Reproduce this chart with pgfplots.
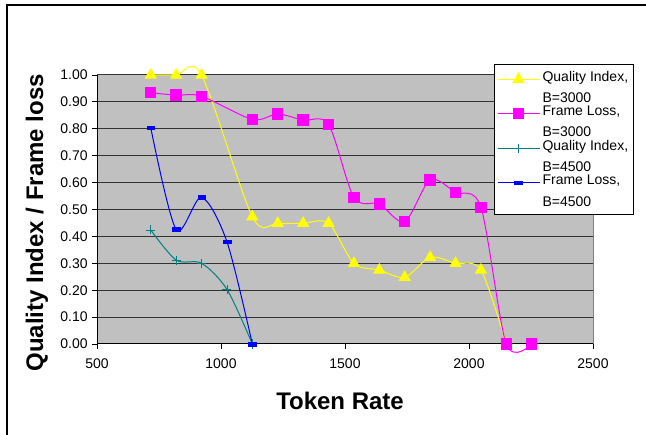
\documentclass[border=0pt]{standalone}
\usepackage{fontspec}
\setmainfont{Liberation Sans}
\usepackage{pgfplots}
\pgfplotsset{compat=1.18}
\definecolor{plotbg}{RGB}{192,192,192}
\definecolor{qyellow}{RGB}{255,255,0}
\definecolor{fmag}{RGB}{255,0,255}
\definecolor{qteal}{RGB}{0,128,128}
\definecolor{fblue}{RGB}{0,0,255}
\pgfdeclareplotmark{dashbar}{%
  \pgfpathrectangle{\pgfpoint{-1.2\pgfplotmarksize}{-0.55\pgfplotmarksize}}{\pgfpoint{2.4\pgfplotmarksize}{1.1\pgfplotmarksize}}%
  \pgfusepathqfillstroke}
\begin{document}
\begin{tikzpicture}
\path[use as bounding box] (0pt,0pt) rectangle (484.5pt,326.25pt);
\draw[line width=1pt] (5.25pt,0pt) -- (5.25pt,322.5pt) -- (484.5pt,322.5pt);
\begin{axis}[
  at={(72.75pt,68.25pt)}, anchor=south west,
  scale only axis, width=372pt, height=201.75pt,
  xmin=500, xmax=2500, ymin=0, ymax=1,
  xtick={500,1000,1500,2000,2500},
  ytick={0,0.1,0.2,0.3,0.4,0.5,0.6,0.7,0.8,0.9,1.0},
  axis x line*=bottom, axis y line*=left,
  axis line style={black, line width=0.75pt},
  tick align=outside, major tick length=3.5pt,
  tick style={black, line width=0.6pt},
  ymajorgrids, grid style={black!80, line width=0.75pt},
  axis background/.style={fill=plotbg},
  /pgf/number format/assume math mode=true,
  /pgf/number format/1000 sep={},
  yticklabel style={/pgf/number format/fixed, /pgf/number format/precision=2, /pgf/number format/fixed zerofill},
  xticklabel style={yshift=-4pt},
  ticklabel style={font=\fontsize{10.5}{12}\selectfont},
  xlabel={\textbf{Token Rate}},
  ylabel={\textbf{Quality Index / Frame loss}},
  label style={font=\fontsize{18}{20}\selectfont},
  xlabel style={at={(axis description cs:0.49,-0.212)}, anchor=center},
  ylabel style={at={(axis description cs:-0.121,0.45)}, anchor=center, rotate=0},
  legend style={at={(axis description cs:0.8004,1.0409)}, anchor=north west,
    draw=black, line width=0.75pt, fill=white, font=\fontsize{10.5}{13.5}\selectfont,
    cells={align=left, anchor=west}, row sep=-3pt, inner xsep=2pt, inner ysep=3pt},
  legend image code/.code={\draw[mark repeat=2,mark phase=2] plot coordinates {(0cm,6.5pt)(0.55cm,6.5pt)(1.1cm,6.5pt)};},
  clip=false,
]
\draw[gray, line width=0.75pt] (rel axis cs:1,0) -- (rel axis cs:1,1);
\addplot[qyellow, line width=0.75pt, smooth, mark=triangle*, mark size=4.6pt, mark options={fill=qyellow, draw=qyellow}] coordinates {
(716.8,1.00) (819.2,1.00) (921.6,1.00) (1126.4,0.473) (1228.8,0.449) (1331.2,0.449) (1433.6,0.449)
(1536,0.30) (1638.4,0.275) (1740.8,0.248) (1843.2,0.322) (1945.6,0.30) (2048,0.275) (2150.4,0.00)};
\addlegendentry{Quality Index,\\[2.5pt]B=3000}
\addplot[fmag, line width=0.75pt, smooth, mark=square*, mark size=3.9pt, mark options={fill=fmag, draw=fmag}] coordinates {
(716.8,0.934) (819.2,0.925) (921.6,0.921) (1126.4,0.835) (1228.8,0.855) (1331.2,0.832) (1433.6,0.816)
(1536,0.545) (1638.4,0.520) (1740.8,0.455) (1843.2,0.610) (1945.6,0.564) (2048,0.508) (2150.4,0.00) (2252.8,0.00)};
\addlegendentry{Frame Loss,\\[2.5pt]B=3000}
\addplot[qteal, line width=0.75pt, smooth, mark=+, mark size=3.4pt, mark options={draw=qteal, line width=0.6pt}] coordinates {
(716.8,0.424) (819.2,0.312) (921.6,0.30) (1024,0.203) (1126.4,0.00)};
\addlegendentry{Quality Index,\\[2.5pt]B=4500}
\addplot[fblue, line width=0.75pt, smooth, mark=dashbar, mark size=2.4pt, mark options={fill=fblue, draw=fblue, line width=0.3pt}] coordinates {
(716.8,0.804) (819.2,0.426) (921.6,0.545) (1024,0.38) (1126.4,0.00)};
\addlegendentry{Frame Loss,\\[2.5pt]B=4500}
\end{axis}
\end{tikzpicture}
\end{document}
